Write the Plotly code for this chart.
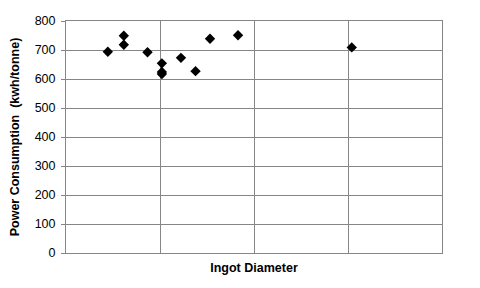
import plotly.graph_objects as go

# Data (x in gridline units, y in kWh/tonne)
diameter = [0.445, 0.615, 0.615, 0.867, 1.02, 1.02, 1.02, 1.223, 1.378, 1.532, 1.83, 3.04]
power = [694, 749, 718, 692, 654, 624, 617, 673, 627, 739, 751, 709]

y_ticks = [0, 100, 200, 300, 400, 500, 600, 700, 800]

grid = "#868686"
font = "Liberation Sans, Arial, sans-serif"

fig = go.Figure()
fig.add_trace(go.Scatter(
    x=diameter, y=power, mode="markers",
    marker=dict(symbol="diamond", size=8, color="black", line=dict(width=0)),
    showlegend=False,
))

fig.update_layout(
    width=480, height=288,
    margin=dict(l=66, r=38, t=21, b=35),
    paper_bgcolor="white", plot_bgcolor="white",
    font=dict(family=font, color="black"),
    xaxis=dict(
        range=[0, 4], dtick=1, showticklabels=False, ticks="",
        showgrid=True, gridcolor=grid, gridwidth=1,
        showline=True, linecolor=grid, linewidth=1, mirror=True,
        zeroline=False,
        title=dict(text="<b>Ingot Diameter</b>", font=dict(size=12.5, family=font), standoff=10),
    ),
    yaxis=dict(
        range=[0, 800], tickvals=y_ticks,
        ticks="outside", ticklen=4, tickcolor=grid,
        ticklabelstandoff=3,
        tickfont=dict(size=12.5, family=font),
        showgrid=True, gridcolor=grid, gridwidth=1,
        showline=True, linecolor=grid, linewidth=1, mirror=True,
        zeroline=False,
        title=dict(text="<b>Power Consumption  (kwh/tonne)</b>", font=dict(size=12.5, family=font), standoff=12),
    ),
)

fig.write_html("out.html")
